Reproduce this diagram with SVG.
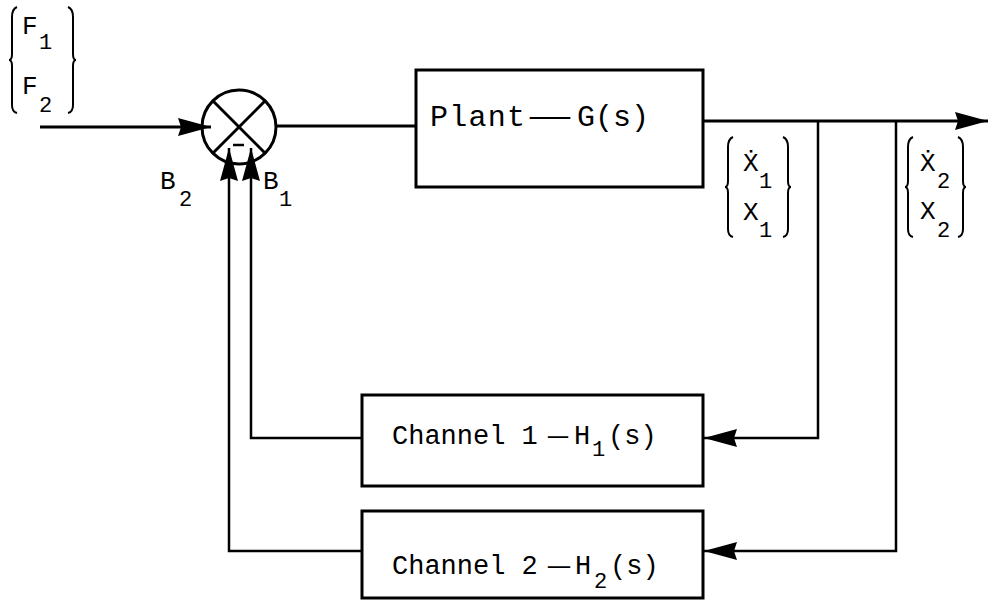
<svg xmlns="http://www.w3.org/2000/svg" width="989" height="602" viewBox="0 0 989 602">
<style>
.box{fill:#fff;stroke:#000;stroke-width:3}
.ln{fill:none;stroke:#000;stroke-width:3}
.fb{fill:none;stroke:#000;stroke-width:2.5}
.br{fill:none;stroke:#000;stroke-width:2}
.t{font-family:"Liberation Mono","Courier New",monospace;fill:#000}
.big{font-size:27px}
.pl{font-size:30px}
.lab{font-size:26px}
.sub{font-size:22px}
</style>
<defs>
<marker id="ah" markerUnits="userSpaceOnUse" markerWidth="36" markerHeight="22" viewBox="-35 -11 36 22" refX="0" refY="0" orient="auto">
<path d="M0,0 L-33,-9 L-30,0 L-33,9 Z" fill="#000"/>
</marker>
</defs>
<rect width="989" height="602" fill="#fff"/>

<g id="connectors">
<path class="ln" d="M40,127 L211,127" marker-end="url(#ah)"/>
<path class="ln" d="M276,126 L416,126"/>
<path class="ln" d="M703,121 L988,121" marker-end="url(#ah)"/>
<path class="fb" d="M818,121 L818,438 L704,438" marker-end="url(#ah)"/>
<path class="fb" d="M896,121 L896,551 L704,551" marker-end="url(#ah)"/>
<path class="fb" d="M362,438 L251,438 L251,148" marker-end="url(#ah)"/>
<path class="fb" d="M362,551 L229,551 L229,148" marker-end="url(#ah)"/>
</g>

<g id="sum">
<circle cx="239" cy="127" r="37" fill="none" stroke="#000" stroke-width="3"/>
<line x1="212.8" y1="100.8" x2="265.2" y2="153.2" stroke="#000" stroke-width="3"/>
<line x1="265.2" y1="100.8" x2="212.8" y2="153.2" stroke="#000" stroke-width="3"/>
<line x1="233" y1="145" x2="244" y2="145" stroke="#000" stroke-width="2.5"/>
</g>

<g id="input-label">
<path class="br" d="M17,7 Q12,9 12,17 L12,54 Q12,60 9,60 Q12,60 12,66 L12,105 Q12,112 17,113"/>
<path class="br" d="M68,7 Q73,9 73,17 L73,54 Q73,60 76,60 Q73,60 73,66 L73,105 Q73,112 68,113"/>
<text class="t lab" x="22" y="34">F</text><text class="t sub" x="39" y="49">1</text>
<text class="t lab" x="22" y="94">F</text><text class="t sub" x="39" y="112">2</text>
</g>

<g id="b-labels">
<text class="t lab" x="160" y="189">B</text><text class="t sub" x="179" y="206">2</text>
<text class="t lab" x="263" y="189">B</text><text class="t sub" x="279" y="206">1</text>
</g>

<g id="plant">
<rect class="box" x="416" y="70" width="287" height="117"/>
<text class="t pl" x="430" y="126" textLength="95" lengthAdjust="spacing">Plant</text>
<text class="t pl" x="530" y="126" textLength="40" lengthAdjust="spacingAndGlyphs">—</text>
<text class="t pl" x="577" y="126" textLength="72" lengthAdjust="spacing">G(s)</text>
</g>

<g id="x1-label">
<path class="br" d="M733,137 Q728,139 728,147 L728,181 Q728,187 725,187 Q728,187 728,193 L728,229 Q728,236 733,237"/>
<path class="br" d="M783,137 Q788,139 788,147 L788,181 Q788,187 791,187 Q788,187 788,193 L788,229 Q788,236 783,237"/>
<text class="t lab" x="743" y="171">Ẋ</text><text class="t sub" x="759" y="188">1</text>
<text class="t lab" x="743" y="220">X</text><text class="t sub" x="759" y="237">1</text>
</g>

<g id="x2-label">
<path class="br" d="M913,137 Q908,139 908,147 L908,181 Q908,187 905,187 Q908,187 908,193 L908,229 Q908,236 913,237"/>
<path class="br" d="M958,137 Q963,139 963,147 L963,181 Q963,187 966,187 Q963,187 963,193 L963,229 Q963,236 958,237"/>
<text class="t lab" x="920" y="171">Ẋ</text><text class="t sub" x="937" y="188">2</text>
<text class="t lab" x="920" y="219">X</text><text class="t sub" x="937" y="237">2</text>
</g>

<g id="channel1">
<rect class="box" x="362" y="395" width="341" height="91"/>
<text class="t big" x="392" y="444">Channel 1</text>
<text class="t big" x="548" y="444" textLength="20" lengthAdjust="spacingAndGlyphs">—</text>
<text class="t big" x="574" y="444">H</text><text class="t sub" x="592" y="456">1</text>
<text class="t big" x="608" y="444">(s)</text>
</g>

<g id="channel2">
<rect class="box" x="362" y="511" width="341" height="87"/>
<text class="t big" x="392" y="574">Channel 2</text>
<text class="t big" x="548" y="574" textLength="22" lengthAdjust="spacingAndGlyphs">—</text>
<text class="t big" x="575" y="574">H</text><text class="t sub" x="594" y="588">2</text>
<text class="t big" x="610" y="574">(s)</text>
</g>
</svg>
